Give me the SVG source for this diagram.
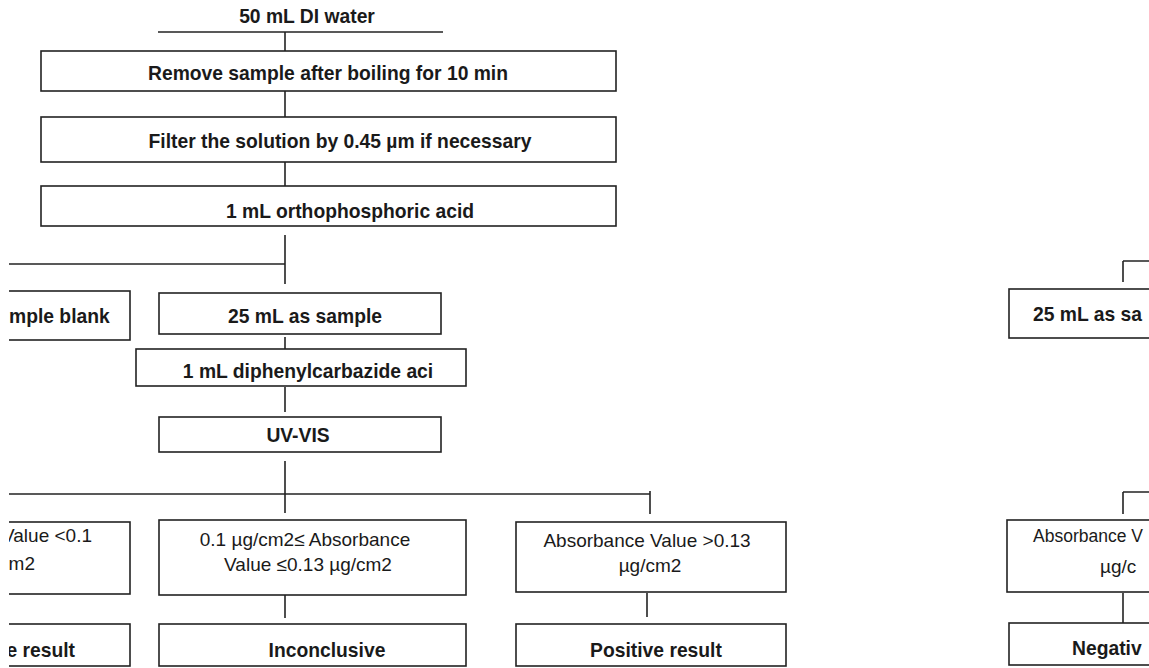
<svg xmlns="http://www.w3.org/2000/svg" width="1149" height="668" viewBox="0 0 1149 668">
<style>
.box{fill:#fff;stroke:#222;stroke-width:1.6}
.ln{stroke:#222;stroke-width:1.6;fill:none}
.b{font-family:"Liberation Sans",Arial,sans-serif;font-weight:bold;font-size:19.3px;fill:#1a1a1a}
.r{font-family:"Liberation Sans",Arial,sans-serif;font-size:19px;fill:#1a1a1a}
.c{text-anchor:middle}
.e{text-anchor:end}
.s{font-size:17.5px}
</style>
<defs>
<clipPath id="cl"><rect x="9" y="0" width="1140" height="668"/></clipPath>
</defs>
<rect width="1149" height="668" fill="#fff"/>
<g clip-path="url(#cl)">
<g id="connectors">
<line class="ln" x1="158" y1="32" x2="443" y2="32"/>
<line class="ln" x1="285" y1="32" x2="285" y2="52"/>
<line class="ln" x1="285" y1="91" x2="285" y2="117"/>
<line class="ln" x1="285" y1="162" x2="285" y2="186"/>
<line class="ln" x1="285" y1="235" x2="285" y2="284"/>
<line class="ln" x1="0" y1="264" x2="285" y2="264"/>
<line class="ln" x1="285" y1="337" x2="285" y2="359"/>
<line class="ln" x1="285" y1="387" x2="285" y2="412"/>
<line class="ln" x1="285" y1="461" x2="285" y2="513"/>
<line class="ln" x1="0" y1="494" x2="650" y2="494"/>
<line class="ln" x1="650" y1="491" x2="650" y2="514"/>
<line class="ln" x1="285" y1="594" x2="285" y2="618"/>
<line class="ln" x1="647" y1="593" x2="647" y2="617"/>
<line class="ln" x1="1123" y1="261" x2="1160" y2="261"/>
<line class="ln" x1="1123" y1="261" x2="1123" y2="282"/>
<line class="ln" x1="1123" y1="492" x2="1160" y2="492"/>
<line class="ln" x1="1123" y1="492" x2="1123" y2="514"/>
<line class="ln" x1="1123" y1="593" x2="1123" y2="623"/>
</g>
<g id="n0"><text class="b c" x="307" y="23">50 mL DI water</text></g>
<g id="n1"><rect class="box" x="41" y="51" width="575" height="40"/><text class="b c" x="328" y="80">Remove sample after boiling for 10 min</text></g>
<g id="n2"><rect class="box" x="41" y="117" width="575" height="45"/><text class="b c" x="340" y="148">Filter the solution by 0.45 µm if necessary</text></g>
<g id="n3"><rect class="box" x="41" y="186" width="575" height="40"/><text class="b c" x="350" y="218">1 mL orthophosphoric acid</text></g>
<g id="n4"><rect class="box" x="-60" y="291" width="190" height="49"/><text class="b" x="9" y="323">mple blank</text></g>
<g id="n5"><rect class="box" x="159" y="293" width="282" height="41"/><text class="b c" x="305" y="323">25 mL as sample</text></g>
<g id="n6"><rect class="box" x="136" y="349" width="330" height="37"/><text class="b c" x="308" y="378">1 mL diphenylcarbazide aci</text></g>
<g id="n7"><rect class="box" x="159" y="417" width="282" height="35"/><text class="b c" x="298" y="442">UV-VIS</text></g>
<g id="n8"><rect class="box" x="-60" y="522" width="190" height="72"/><text class="r e" x="92" y="542">Value &lt;0.1</text><text class="r e" x="35" y="570">m2</text></g>
<g id="n9"><rect class="box" x="159" y="520" width="307" height="75"/><text class="r c" x="305" y="546">0.1 µg/cm2≤ Absorbance</text><text class="r c" x="308" y="571">Value ≤0.13 µg/cm2</text></g>
<g id="n10"><rect class="box" x="516" y="522" width="270" height="70"/><text class="r c" x="647" y="547">Absorbance Value &gt;0.13</text><text class="r c" x="650" y="572">µg/cm2</text></g>
<g id="n11"><rect class="box" x="-60" y="624" width="190" height="42"/><text class="b e" x="75" y="657">e result</text></g>
<g id="n12"><rect class="box" x="159" y="624" width="307" height="42"/><text class="b c" x="327" y="657">Inconclusive</text></g>
<g id="n13"><rect class="box" x="516" y="624" width="270" height="42"/><text class="b c" x="656" y="657">Positive result</text></g>
<g id="n14"><rect class="box" x="1009" y="289" width="200" height="49"/><text class="b" x="1033" y="321">25 mL as sa</text></g>
<g id="n15"><rect class="box" x="1007" y="520" width="200" height="72"/><text class="r s" x="1033" y="542">Absorbance V</text><text class="r" x="1100" y="573">µg/c</text></g>
<g id="n16"><rect class="box" x="1009" y="623" width="200" height="42"/><text class="b" x="1072" y="655">Negativ</text></g>
</g>
</svg>
